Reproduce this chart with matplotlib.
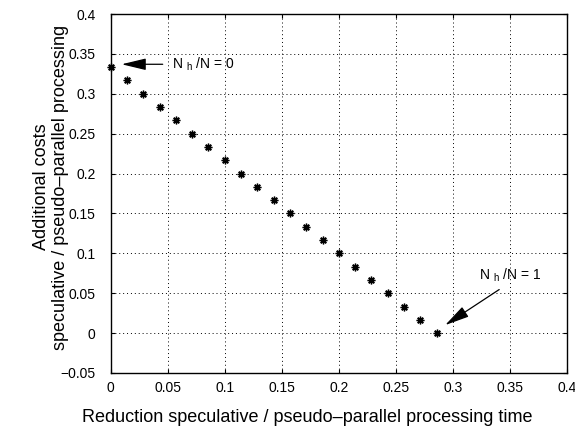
import matplotlib
matplotlib.use("Agg")
import matplotlib.pyplot as plt

plt.rcParams['font.family'] = ['Liberation Sans', 'DejaVu Sans']
plt.rcParams['mathtext.fontset'] = 'custom'
plt.rcParams['mathtext.rm'] = 'Liberation Sans'
plt.rcParams['mathtext.it'] = 'Liberation Sans'

# Reduction of processing time vs. additional costs for N_h/N from 0 to 1
time_reduction = [0.0, 0.0143, 0.0286, 0.0429, 0.0571, 0.0714, 0.0857, 0.1,
                  0.1143, 0.1286, 0.1429, 0.1571, 0.1714, 0.1857, 0.2, 0.2143,
                  0.2286, 0.2429, 0.2571, 0.2714, 0.2857]
additional_costs = [0.3333, 0.3167, 0.3, 0.2833, 0.2667, 0.25, 0.2333, 0.2167,
                    0.2, 0.1833, 0.1667, 0.15, 0.1333, 0.1167, 0.1, 0.0833,
                    0.0667, 0.05, 0.0333, 0.0167, 0.0]

x_ticks = [0, 0.05, 0.1, 0.15, 0.2, 0.25, 0.3, 0.35, 0.4]
x_tick_labels = ['0', '0.05', '0.1', '0.15', '0.2', '0.25', '0.3', '0.35', '0.4']
y_ticks = [-0.05, 0, 0.05, 0.1, 0.15, 0.2, 0.25, 0.3, 0.35, 0.4]
y_tick_labels = ['\u22120.05', '0', '0.05', '0.1', '0.15', '0.2', '0.25', '0.3', '0.35', '0.4']

fig = plt.figure(figsize=(5.75, 4.3), dpi=100)
ax = fig.add_axes([0.1925, 0.1326, 0.7935, 0.8348])

ax.plot(time_reduction, additional_costs, linestyle='none', marker=(8, 2, 0),
        markersize=5.5, markeredgewidth=1.0, color='black', clip_on=False, zorder=3)

ax.set_xlim(0, 0.4)
ax.set_ylim(-0.05, 0.4)
ax.set_xticks(x_ticks)
ax.set_xticklabels(x_tick_labels)
ax.set_yticks(y_ticks)
ax.set_yticklabels(y_tick_labels)

ax.grid(True, linestyle=(0, (1, 3)), color='black', linewidth=0.7)
ax.tick_params(direction='in', length=3, width=0.8, top=True, right=True,
               labelsize=10)
ax.tick_params(axis='x', pad=6)
ax.tick_params(axis='y', pad=11)
for s in ax.spines.values():
    s.set_linewidth(1.0)

arrow = dict(arrowstyle='-|>,head_length=0.75,head_width=0.18', color='black',
             lw=0.9, mutation_scale=20, shrinkA=0, shrinkB=0)
ax.annotate('', xy=(0.0096, 0.337), xytext=(0.0456, 0.337), arrowprops=arrow)
ax.text(0.0535, 0.337, 'N $_{\\mathrm{h}}$ /N = 0', fontsize=10, va='center', ha='left')

ax.annotate('', xy=(0.2932, 0.010), xytext=(0.3406, 0.0546), arrowprops=arrow)
ax.text(0.323, 0.0725, 'N $_{\\mathrm{h}}$ /N = 1', fontsize=10, va='center', ha='left')

fig.text(307 / 575, 1 - 417 / 430,
         'Reduction speculative / pseudo\u2013parallel processing time',
         fontsize=13, ha='center', va='center')
fig.text(41 / 575, 1 - 187 / 430, 'Additional costs',
         fontsize=13, ha='center', va='center', rotation=90)
fig.text(61 / 575, 1 - 187 / 430, 'speculative / pseudo\u2013parallel processing',
         fontsize=13, ha='center', va='center', rotation=90)

fig.savefig('out.png', dpi=100)
